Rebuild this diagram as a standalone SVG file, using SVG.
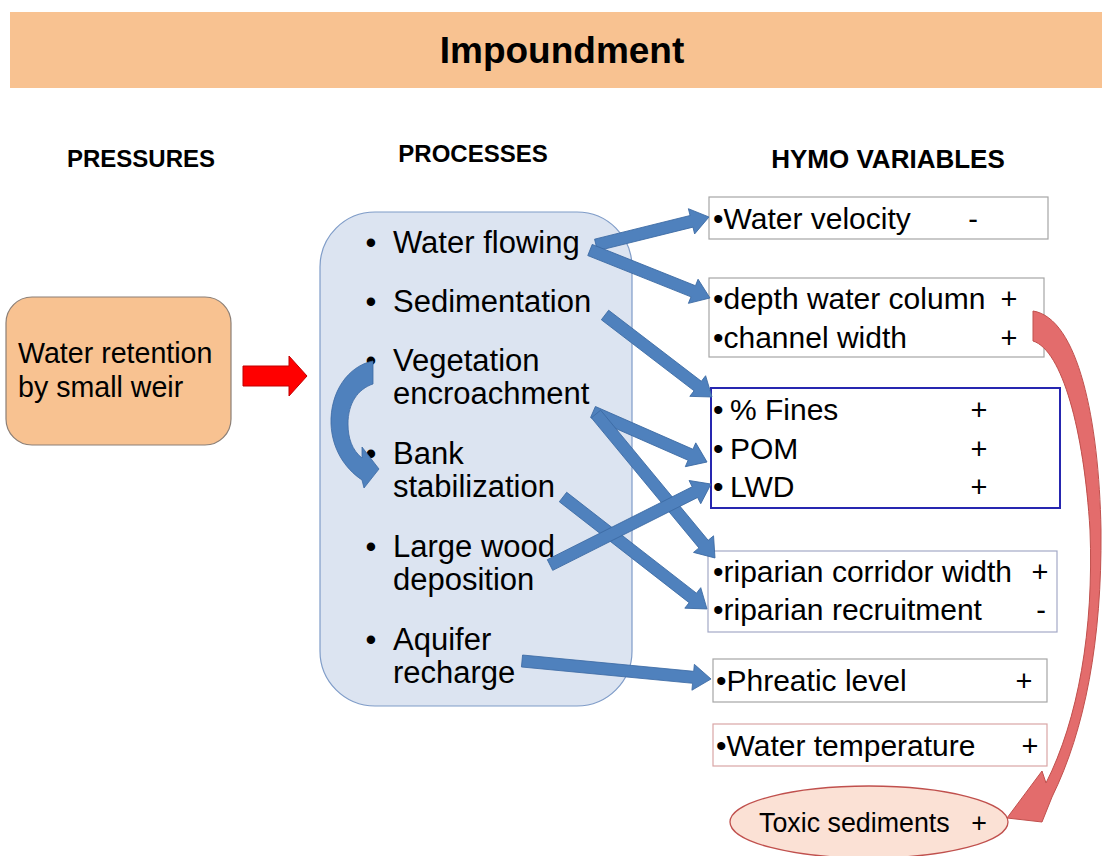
<svg xmlns="http://www.w3.org/2000/svg" width="1102" height="856" viewBox="0 0 1102 856">
  <style>
    text { font-family: "Liberation Sans", Arial, sans-serif; fill: #000; }
    .head { font-weight: bold; font-size: 24px; text-anchor: middle; }
    .head-wide { font-size: 26px; }
    .proc { font-size: 31px; }
    .var { font-size: 30px; }
    .sign { font-size: 29px; text-anchor: middle; }
    .box { fill: #fff; stroke: #a6a6a6; stroke-width: 1.2; }
    .blue { fill: #4f81bd; stroke: #3c6aa3; stroke-width: 0.8; }
  </style>

  <rect width="1102" height="856" fill="#fff"/>

  <!-- title banner -->
  <g id="title">
    <rect x="10" y="12" width="1092" height="76" fill="#f8c291"/>
    <text x="562" y="63" text-anchor="middle" font-weight="bold" font-size="37">Impoundment</text>
  </g>

  <!-- column headings -->
  <g id="headings">
    <text class="head" x="141" y="167">PRESSURES</text>
    <text class="head" x="473" y="162">PROCESSES</text>
    <text class="head head-wide" x="888" y="168">HYMO VARIABLES</text>
  </g>

  <!-- pressure -->
  <g id="pressure">
    <rect x="6" y="297" width="225" height="148" rx="26" fill="#f8c291" stroke="#8c7f76" stroke-width="1.2"/>
    <text x="18" y="363" font-size="28.6">Water retention</text>
    <text x="18" y="397" font-size="28.6">by small weir</text>
  </g>

  <!-- processes -->
  <g id="processes">
    <rect x="320" y="212" width="312" height="494" rx="55" fill="#dce4f1" stroke="#7f9cc8" stroke-width="1.2"/>
    <g class="proc">
      <text x="371" y="253" text-anchor="middle">•</text><text x="393" y="253">Water flowing</text>
      <text x="371" y="312" text-anchor="middle">•</text><text x="393" y="312">Sedimentation</text>
      <text x="371" y="371" text-anchor="middle">•</text><text x="393" y="371">Vegetation</text>
      <text x="393" y="404">encroachment</text>
      <text x="371" y="464" text-anchor="middle">•</text><text x="393" y="464">Bank</text>
      <text x="393" y="497">stabilization</text>
      <text x="371" y="557" text-anchor="middle">•</text><text x="393" y="557">Large wood</text>
      <text x="393" y="590">deposition</text>
      <text x="371" y="650" text-anchor="middle">•</text><text x="393" y="650">Aquifer</text>
      <text x="393" y="683">recharge</text>
    </g>
  </g>

  <!-- hydromorphological variables -->
  <g id="var-velocity">
    <rect class="box" x="709" y="197" width="339" height="42"/>
    <text class="var" x="713" y="229">•Water velocity</text>
    <text class="sign" x="973" y="229">-</text>
  </g>

  <g id="var-depth-width">
    <rect class="box" x="709" y="278" width="335" height="79"/>
    <text class="var" x="713" y="309">•depth water column</text>
    <text class="sign" x="1009" y="309">+</text>
    <text class="var" x="713" y="348">•channel width</text>
    <text class="sign" x="1009" y="348">+</text>
  </g>

  <g id="var-substrate">
    <rect x="711" y="388" width="349" height="120" fill="#fff" stroke="#2626b0" stroke-width="2"/>
    <text class="var" x="713" y="420">•</text><text class="var" x="730" y="420">% Fines</text>
    <text class="sign" x="979" y="420">+</text>
    <text class="var" x="713" y="459">•</text><text class="var" x="730" y="459">POM</text>
    <text class="sign" x="979" y="459">+</text>
    <text class="var" x="713" y="497">•</text><text class="var" x="730" y="497">LWD</text>
    <text class="sign" x="979" y="497">+</text>
  </g>

  <g id="var-riparian">
    <rect x="708" y="551" width="349" height="81" fill="#fff" stroke="#a3a9c6" stroke-width="1.2"/>
    <text class="var" x="713" y="582">•riparian corridor width</text>
    <text class="sign" x="1040" y="582">+</text>
    <text class="var" x="713" y="620">•riparian recruitment</text>
    <text class="sign" x="1041" y="620">-</text>
  </g>

  <g id="var-phreatic">
    <rect class="box" x="713" y="659" width="334" height="43"/>
    <text class="var" x="716" y="691">•Phreatic level</text>
    <text class="sign" x="1024" y="691">+</text>
  </g>

  <g id="var-temperature">
    <rect x="713" y="724" width="334" height="42" fill="#fff" stroke="#d9a6a6" stroke-width="1.2"/>
    <text class="var" x="716" y="756">•Water temperature</text>
    <text class="sign" x="1030" y="756">+</text>
  </g>

  <g id="toxic-sediments">
    <ellipse cx="869" cy="822" rx="139" ry="36" fill="#fbe1d5" stroke="#c0504d" stroke-width="1.3"/>
    <text x="759" y="832" font-size="26.8">Toxic sediments</text>
    <text x="979" y="832" font-size="26.8" text-anchor="middle">+</text>
  </g>

  <!-- connectors -->
  <g id="connectors">
    <!-- pressure to processes -->
    <path d="M243,366 H289 V356 L307,376 L289,396 V386 H243 Z" fill="#ff0000" stroke="#c00000" stroke-width="1"/>

    <!-- processes to variables -->
    <path class="blue" transform="translate(596,245) rotate(-13.92)" d="M0,-6 H98.4 V-13 L116.4,0 L98.4,13 V6 H0 Z"/>
    <path class="blue" transform="translate(590,250) rotate(21.8)" d="M0,-6 H111.2 V-13 L129.2,0 L111.2,13 V6 H0 Z"/>
    <path class="blue" transform="translate(605,315) rotate(37.46)" d="M0,-6 H116.8 V-13 L134.8,0 L116.8,13 V6 H0 Z"/>
    <path class="blue" transform="translate(593,412) rotate(23.68)" d="M0,-6 H106.5 V-13 L124.5,0 L106.5,13 V6 H0 Z"/>
    <path class="blue" transform="translate(596,414) rotate(50.43)" d="M0,-6 H168.8 V-13 L186.8,0 L168.8,13 V6 H0 Z"/>
    <path class="blue" transform="translate(563,497) rotate(37.87)" d="M0,-6 H164.4 V-13 L182.4,0 L164.4,13 V6 H0 Z"/>
    <path class="blue" transform="translate(550,565) rotate(-26.7)" d="M0,-6 H162.2 V-13 L180.2,0 L162.2,13 V6 H0 Z"/>
    <path class="blue" transform="translate(522,661) rotate(5.44)" d="M0,-6 H171.9 V-13 L189.9,0 L171.9,13 V6 H0 Z"/>

    <!-- vegetation encroachment to bank stabilization -->
    <path class="blue" d="M373,361 C348,366 330,392 331,424 C332,448 344,468 362,480 L364,488 L379,469 L362,447 L362,458 C352,450 348,438 348,424 C348,403 358,389 373,384 Z"/>

    <!-- depth / width to toxic sediments -->
    <path d="M1033,311 C1078,318 1099,420 1101,530 C1102,640 1085,730 1052,797 L1042,822 L1007,818 L1042,771 L1046,783 C1078,720 1094,630 1090,530 C1084,430 1062,350 1033,341 Z" fill="#e36c6c" stroke="#c0504d" stroke-width="1"/>
  </g>
</svg>
